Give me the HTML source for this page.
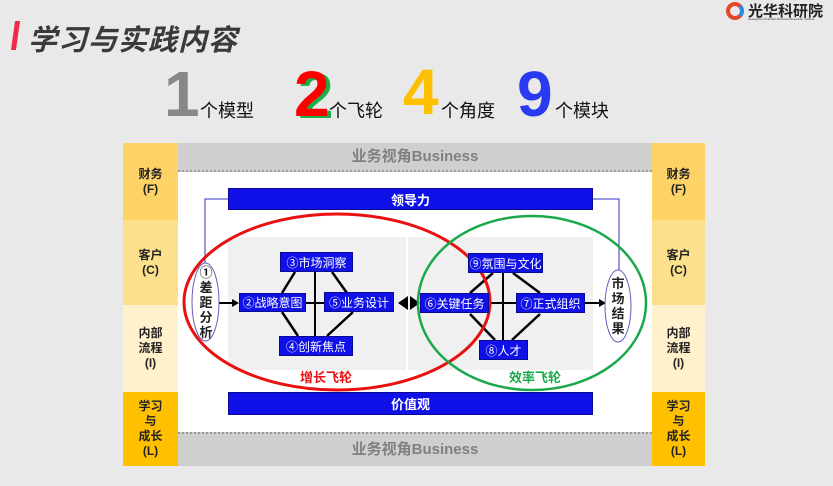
<!DOCTYPE html>
<html><head><meta charset="utf-8"><style>
*{margin:0;padding:0;box-sizing:border-box}
body{width:833px;height:486px;background:#e9e9e9;position:relative;overflow:hidden;font-family:"Liberation Sans","Noto Sans CJK SC",sans-serif}
.a{position:absolute}
.side{position:absolute;display:flex;align-items:center;justify-content:center;text-align:center;font-weight:bold;font-size:12px;line-height:15px;color:#222}
.box{position:absolute;background:#1010e8;color:#fff;font-size:12px;display:flex;align-items:center;justify-content:center;border:1px solid #0a0a90;white-space:nowrap}
.big{position:absolute;font-weight:bold;font-size:64px;line-height:64px;font-family:"Liberation Sans",sans-serif}
.sm{position:absolute;font-size:18px;color:#111}
</style></head><body>
<div class="a" style="left:13px;top:21px;width:5px;height:29px;background:#ee2a4a;transform:skewX(-8deg)"></div>
<div class="a" style="left:28px;top:17px;font-size:29px;font-weight:bold;font-style:italic;color:#3a3a3a;letter-spacing:1px">学习与实践内容</div>
<div class="a" style="left:726px;top:2px;width:18px;height:18px;border-radius:50%;border:4px solid #e8452a;border-right-color:#2a8ae0"></div>
<div class="a" style="left:748px;top:0px;font-size:15px;font-weight:bold;color:#222">光华科研院</div>
<div class="a" style="left:748px;top:17px;font-size:3px;color:#333">Guangzhou Scientific Business Research Institute</div>

<div class="big" style="left:164px;top:62px;color:#888">1</div>
<div class="sm" style="left:200px;top:97px">个模型</div>
<div class="big" style="left:298px;top:64px;color:#1bb04a">2</div>
<div class="big" style="left:294px;top:62px;color:#f00">2</div>
<div class="sm" style="left:329px;top:97px">个飞轮</div>
<div class="big" style="left:403px;top:60px;color:#ffc000">4</div>
<div class="sm" style="left:441px;top:97px">个角度</div>
<div class="big" style="left:517px;top:62px;color:#2a3af0">9</div>
<div class="sm" style="left:555px;top:97px">个模块</div>

<div class="side" style="left:123px;top:143px;width:55px;height:77px;background:#fdd366">财务<br>(F)</div>
<div class="side" style="left:123px;top:220px;width:55px;height:85px;background:#fde08c">客户<br>(C)</div>
<div class="side" style="left:123px;top:305px;width:55px;height:87px;background:#fef1cc">内部<br>流程<br>(I)</div>
<div class="side" style="left:123px;top:392px;width:55px;height:74px;background:#ffc000">学习<br>与<br>成长<br>(L)</div>
<div class="side" style="left:652px;top:143px;width:53px;height:77px;background:#fdd366">财务<br>(F)</div>
<div class="side" style="left:652px;top:220px;width:53px;height:85px;background:#fde08c">客户<br>(C)</div>
<div class="side" style="left:652px;top:305px;width:53px;height:87px;background:#fef1cc">内部<br>流程<br>(I)</div>
<div class="side" style="left:652px;top:392px;width:53px;height:74px;background:#ffc000">学习<br>与<br>成长<br>(L)</div>

<div class="a" style="left:178px;top:143px;width:474px;height:29px;background:#d0cfcf;border-bottom:2px dotted #999;color:#808080;font-weight:bold;font-size:15px;text-align:center;line-height:27px">业务视角Business</div>
<div class="a" style="left:178px;top:172px;width:474px;height:260px;background:#fff"></div>
<div class="a" style="left:178px;top:432px;width:474px;height:34px;background:#d0cfcf;border-top:2px dotted #999;color:#808080;font-weight:bold;font-size:15px;text-align:center;line-height:32px">业务视角Business</div>

<div class="a" style="left:228px;top:237px;width:178px;height:133px;background:#f0f0f0"></div>
<div class="a" style="left:408px;top:237px;width:185px;height:133px;background:#f0f0f0"></div>

<svg class="a" style="left:0;top:0" width="833" height="486">
<polyline points="228,199 205,199 205,264" fill="none" stroke="#3030c0" stroke-width="1"/>
<polyline points="593,199 619,199 619,270" fill="none" stroke="#3030c0" stroke-width="1"/>
<g stroke="#000" stroke-width="2.5">
<line x1="295" y1="272" x2="282" y2="293"/><line x1="332" y1="272" x2="347" y2="293"/>
<line x1="282" y1="312" x2="298" y2="336"/><line x1="353" y1="312" x2="327" y2="336"/>
<line x1="315" y1="272" x2="315" y2="336" stroke-width="2"/><line x1="306" y1="303" x2="324" y2="303" stroke-width="2"/>
<line x1="493" y1="273" x2="470" y2="293"/><line x1="513" y1="273" x2="540" y2="293"/>
<line x1="470" y1="314" x2="495" y2="340"/><line x1="540" y1="314" x2="512" y2="340"/>
<line x1="503" y1="273" x2="503" y2="340" stroke-width="2"/><line x1="489" y1="303" x2="516" y2="303" stroke-width="2"/>
</g>
<line x1="219" y1="303" x2="234" y2="303" stroke="#000" stroke-width="2"/><polygon points="239,303 232,299 232,307"/>
<line x1="585" y1="303" x2="600" y2="303" stroke="#000" stroke-width="2"/><polygon points="606,303 599,299 599,307"/>
<polygon points="398,303 408,296 408,310"/><polygon points="420,303 410,296 410,310"/>
<ellipse cx="337" cy="302" rx="153" ry="88" fill="none" stroke="#e81010" stroke-width="3"/>
<ellipse cx="532" cy="303" rx="114" ry="87" fill="none" stroke="#1aa84a" stroke-width="2.5"/>
<ellipse cx="205.5" cy="302" rx="13.5" ry="39" fill="#fff" stroke="#6060c0" stroke-width="1"/>
<ellipse cx="618" cy="306" rx="13" ry="36" fill="#fff" stroke="#6060c0" stroke-width="1"/>
</svg>
<div class="a" style="left:196px;top:265px;width:20px;text-align:center;font-size:13px;font-weight:bold;line-height:15px;color:#222">①<br>差<br>距<br>分<br>析</div>
<div class="a" style="left:608px;top:276px;width:20px;text-align:center;font-size:13px;font-weight:bold;line-height:15px;color:#222">市<br>场<br>结<br>果</div>

<div class="box" style="left:228px;top:188px;width:365px;height:22px;font-weight:bold;font-size:13px">领导力</div>
<div class="box" style="left:228px;top:392px;width:365px;height:23px;font-weight:bold;font-size:13px">价值观</div>
<div class="box" style="left:280px;top:252px;width:73px;height:20px">③市场洞察</div>
<div class="box" style="left:239px;top:293px;width:67px;height:19px">②战略意图</div>
<div class="box" style="left:324px;top:292px;width:70px;height:20px">⑤业务设计</div>
<div class="box" style="left:279px;top:336px;width:74px;height:20px">④创新焦点</div>
<div class="box" style="left:420px;top:293px;width:69px;height:20px">⑥关键任务</div>
<div class="box" style="left:468px;top:253px;width:75px;height:20px">⑨氛围与文化</div>
<div class="box" style="left:516px;top:293px;width:69px;height:20px">⑦正式组织</div>
<div class="box" style="left:479px;top:340px;width:49px;height:20px">⑧人才</div>

<div class="a" style="left:300px;top:367px;font-size:13px;font-weight:bold;color:#e81010">增长飞轮</div>
<div class="a" style="left:509px;top:367px;font-size:13px;font-weight:bold;color:#1aa84a">效率飞轮</div>
</body></html>
